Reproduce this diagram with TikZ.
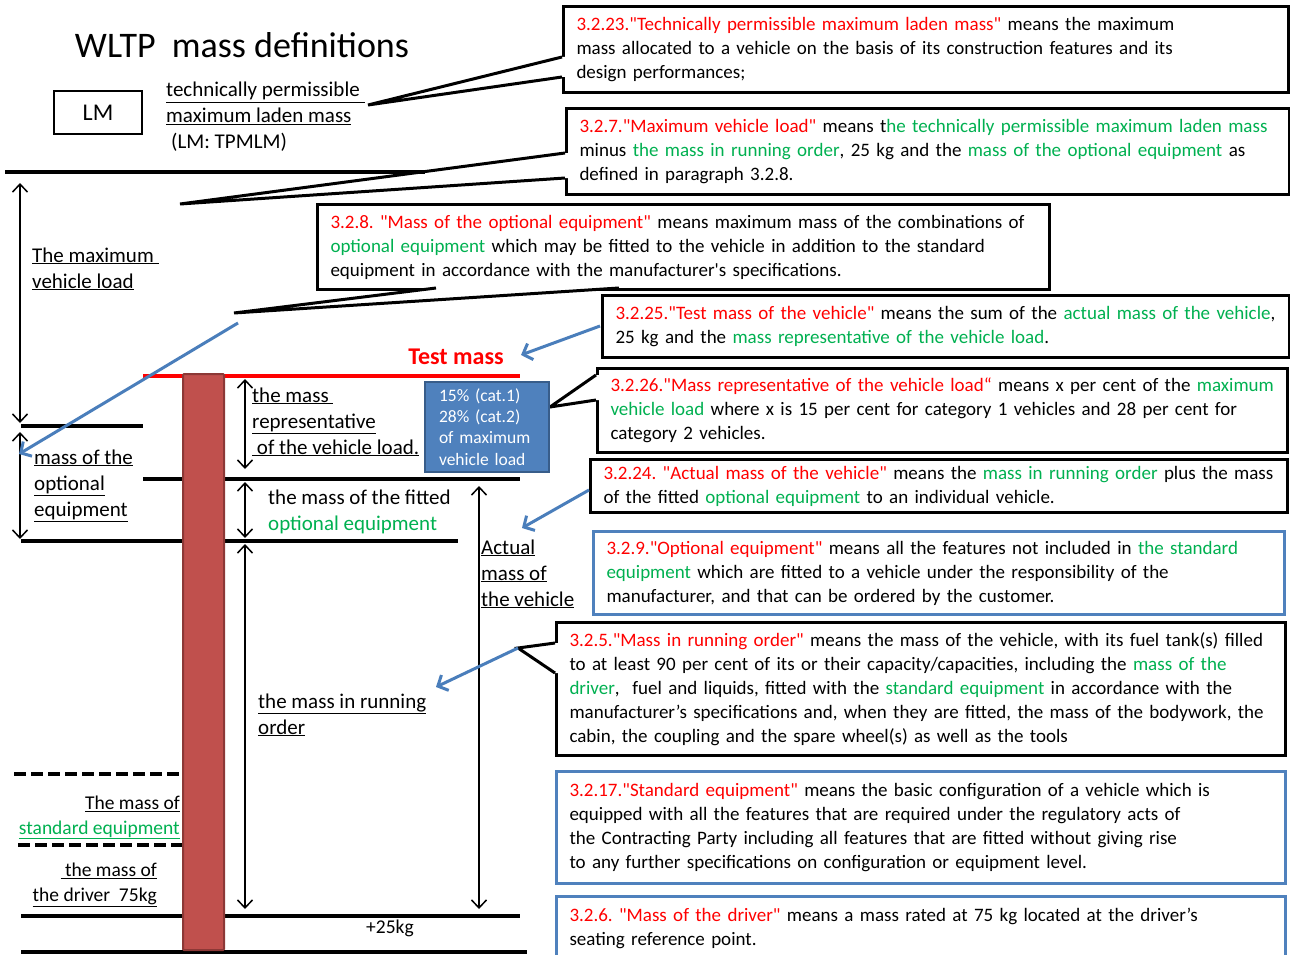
\documentclass[tikz,border=0pt]{standalone}
\usepackage{fontspec}
\setmainfont{Carlito}[Ligatures=TeXOff]
\usetikzlibrary{arrows.meta}
\definecolor{defred}{RGB}{255,0,0}
\definecolor{defgreen}{RGB}{0,176,80}
\definecolor{hintblue}{RGB}{74,126,187}
\definecolor{boxblue}{RGB}{79,129,189}
\definecolor{boxblueline}{RGB}{56,93,138}
\definecolor{barred}{RGB}{192,80,77}
\definecolor{barline}{RGB}{140,56,54}
\newcommand{\dterm}[1]{\textcolor{defred}{#1}}
\newcommand{\gterm}[1]{\textcolor{defgreen}{#1}}
\frenchspacing
\begin{document}
\begin{tikzpicture}[x=1pt,y=-1pt,
  defbox/.style={draw=black, line width=3pt, anchor=north west, align=left, inner xsep=13pt, inner ysep=0pt, font=\fontsize{19}{24}\selectfont},
  bluedefbox/.style={defbox, draw=boxblue},
  sidetext/.style={anchor=base west, align=left, inner sep=0pt, font=\fontsize{21}{26}\selectfont},
  smalltext/.style={anchor=base east, align=right, inner sep=0pt, font=\fontsize{19.5}{24.5}\selectfont},
  levelline/.style={line width=4pt},
  dimarrow/.style={line width=1.5pt, {Straight Barb[length=8pt,width=15pt]}-{Straight Barb[length=8pt,width=15pt]}},
  calloutline/.style={line width=3pt, line join=miter},
  hintarrow/.style={draw=hintblue, line width=3pt, -{Straight Barb[length=8pt,width=17pt]}}]
\useasboundingbox (0,0) rectangle (1290,955);
\clip (0,0) rectangle (1290,955);

% title and LM
\node (title) at (242,45) {\fontsize{36}{43}\selectfont WLTP\ \ mass definitions};
\node[draw, line width=2pt, minimum width=88pt, minimum height=43pt, font=\fontsize{24}{28}\selectfont] (lm) at (98,113) {LM};
\node[sidetext] (tpmlm) at (166,149) {\underline{technically permissible\ }\\\underline{maximum laden mass}\\\hspace{5pt}(LM: TPMLM)};

% definitions
\node[defbox, text width=699pt, minimum height=86pt] (d3223) at (562,5) {\dterm{3.2.23."Technically permissible maximum laden mass"} means the maximum\\mass allocated to a vehicle on the basis of its construction features and its\\design performances;};
\node[defbox, text width=697pt, minimum height=86pt] (d327) at (565,107) {\dterm{3.2.7."Maximum vehicle load"} means t\gterm{he technically permissible maximum laden mass}\\minus \gterm{the mass in running order}, 25 kg and the \gterm{mass of the optional equipment} as\\defined in paragraph 3.2.8.};
\node[defbox, text width=706pt, minimum height=85pt] (d328) at (316,203) {\dterm{3.2.8. "Mass of the optional equipment"} means maximum mass of the combinations of\\\gterm{optional equipment} which may be fitted to the vehicle in addition to the standard\\equipment in accordance with the manufacturer's specifications.};
\node[defbox, text width=661pt, minimum height=62pt] (d3225) at (601,294) {\dterm{3.2.25."Test mass of the vehicle"} means the sum of the \gterm{actual mass of the vehicle},\\25 kg and the \gterm{mass representative of the vehicle load}.};
\node[defbox, text width=664pt, minimum height=84pt] (d3226) at (596,367) {\dterm{3.2.26."Mass representative of the vehicle load“} means x per cent of the \gterm{maximum}\\\gterm{vehicle load} where x is 15 per cent for category 1 vehicles and 28 per cent for\\category 2 vehicles.};
\node[defbox, text width=671pt, minimum height=53pt] (d3224) at (589,458) {\dterm{3.2.24. "Actual mass of the vehicle"} means the \gterm{mass in running order} plus the mass\\of the fitted \gterm{optional equipment} to an individual vehicle.};
\node[bluedefbox, text width=665pt, minimum height=83pt] (d329) at (592,530) {\dterm{3.2.9."Optional equipment"} means all the features not included in \gterm{the standard}\\\gterm{equipment} which are fitted to a vehicle under the responsibility of the\\manufacturer, and that can be ordered by the customer.};
\node[defbox, text width=703pt, minimum height=133pt] (d325) at (555,621) {\dterm{3.2.5."Mass in running order"} means the mass of the vehicle, with its fuel tank(s) filled\\to at least 90 per cent of its or their capacity/capacities, including the \gterm{mass of the}\\\gterm{driver},\ \ fuel and liquids, fitted with the \gterm{standard equipment} in accordance with the\\manufacturer’s specifications and, when they are fitted, the mass of the bodywork, the\\cabin, the coupling and the spare wheel(s) as well as the tools};
\node[bluedefbox, text width=703pt, minimum height=112pt] (d3217) at (555,770) {\dterm{3.2.17."Standard equipment"} means the basic configuration of a vehicle which is\\equipped with all the features that are required under the regulatory acts of\\the Contracting Party including all features that are fitted without giving rise\\to any further specifications on configuration or equipment level.};
\node[bluedefbox, text width=703pt, minimum height=64pt] (d326) at (555,895) {\dterm{3.2.6. "Mass of the driver"} means a mass rated at 75 kg located at the driver’s\\seating reference point.};

% callout pointers
\coordinate (t3223) at (368,105);
\coordinate (t327) at (180,204);
\coordinate (t328) at (234,313);
\coordinate (t3226) at (550,407);
\coordinate (t325) at (518,648);
\fill[white] (562,57) -- (t3223) -- (562,77) -- (566,77) -- (566,57) -- cycle;
\draw[calloutline] (562,57) -- (t3223) -- (562,77);
\fill[white] (565,153) -- (t327) -- (565,178) -- (569,178) -- (569,153) -- cycle;
\draw[calloutline] (565,153) -- (t327) -- (565,178);
\fill[white] (436,288) -- (t328) -- (619,288) -- (619,284) -- (436,284) -- cycle;
\draw[calloutline] (436,288) -- (t328) -- (619,288);
\fill[white] (596,375) -- (t3226) -- (596,400) -- (600,400) -- (600,375) -- cycle;
\draw[calloutline] (596,375) -- (t3226) -- (596,400);
\fill[white] (555,643) -- (t325) -- (555,673) -- (559,673) -- (559,643) -- cycle;
\draw[calloutline] (555,643) -- (t325) -- (555,673);

% levels and mass bar
\draw[levelline] (5,172) -- (425,172);
\draw[levelline] (21,426) -- (143,426);
\draw[levelline, defred] (143,376) -- (520,376);
\draw[levelline] (143,479) -- (520,479);
\draw[levelline] (21,541) -- (458,541);
\draw[levelline] (21,916) -- (520,916);
\draw[levelline] (21,952) -- (527,952);
\draw[levelline, dash pattern=on 12pt off 5pt] (14,774) -- (182,774);
\draw[levelline, dash pattern=on 12pt off 5pt] (18,845) -- (182,845);
\filldraw[fill=barred, draw=barline, line width=2pt, rounded corners=1pt] (183,374) rectangle (224,950);

% dimension arrows
\coordinate (mlTop) at (20,183);
\coordinate (mlBot) at (20,423);
\coordinate (oeTop) at (20,432);
\coordinate (oeBot) at (20,539);
\coordinate (rlTop) at (245,379);
\coordinate (rlBot) at (245,469);
\coordinate (feTop) at (245,482);
\coordinate (feBot) at (245,538);
\coordinate (roTop) at (245,544);
\coordinate (roBot) at (245,909);
\coordinate (amTop) at (479,486);
\coordinate (amBot) at (479,909);
\draw[dimarrow] (mlTop) -- (mlBot);
\draw[dimarrow] (oeTop) -- (oeBot);
\draw[dimarrow] (rlTop) -- (rlBot);
\draw[dimarrow] (feTop) -- (feBot);
\draw[dimarrow] (roTop) -- (roBot);
\draw[dimarrow] (amTop) -- (amBot);

% labels of the masses
\node[sidetext] (maxload) at (32,288) {\underline{The maximum\ }\\\underline{vehicle load}};
\node[sidetext] (optmass) at (34,516) {\underline{mass of the}\\\underline{optional}\\\underline{equipment}};
\node[sidetext] (repload) at (252,454) {\underline{the mass\ }\\\underline{representative}\\\underline{\ of the vehicle load.}};
\node[sidetext] (fitted) at (268,530) {the mass of the fitted\\\gterm{optional equipment}};
\node[sidetext] (actual) at (481,606) {\underline{Actual}\\\underline{mass of}\\\underline{the vehicle}};
\node[sidetext] (running) at (258,734) {\underline{the mass in running}\\\underline{order}};
\node[smalltext] (stdeq) at (180,834) {\underline{The mass of}\\\textcolor{defgreen}{\underline{standard equipment}}};
\node[smalltext] (driver) at (157,901) {\underline{\ the mass of}\\\underline{the driver\ \ 75kg}};
\node[font=\fontsize{19.5}{24}\selectfont] (plus25) at (390,928) {+25kg};
\node[font=\bfseries\fontsize{24}{29}\selectfont, text=defred] (testmass) at (456,357) {Test mass};
\node[fill=boxblue, draw=boxblueline, line width=2pt, minimum width=124pt, minimum height=90pt, text width=96pt, inner xsep=14pt, align=left, text=white, font=\fontsize{17.5}{21.3}\selectfont] (share) at (487,427) {15\% (cat.1)\\28\% (cat.2)\\of maximum\\vehicle load};

% blue hints
\coordinate (h328) at (238,323);
\coordinate (h3225) at (600,326);
\coordinate (h3224) at (589,490);
\coordinate (hOpt) at (19,454);
\coordinate (hTest) at (521,355);
\coordinate (hActual) at (522,528);
\coordinate (hRunning) at (436,687);
\draw[hintarrow] (h328) -- (hOpt);
\draw[hintarrow] (h3225) -- (hTest);
\draw[hintarrow] (h3224) -- (hActual);
\draw[hintarrow] (t325) -- (hRunning);
\end{tikzpicture}
\end{document}
